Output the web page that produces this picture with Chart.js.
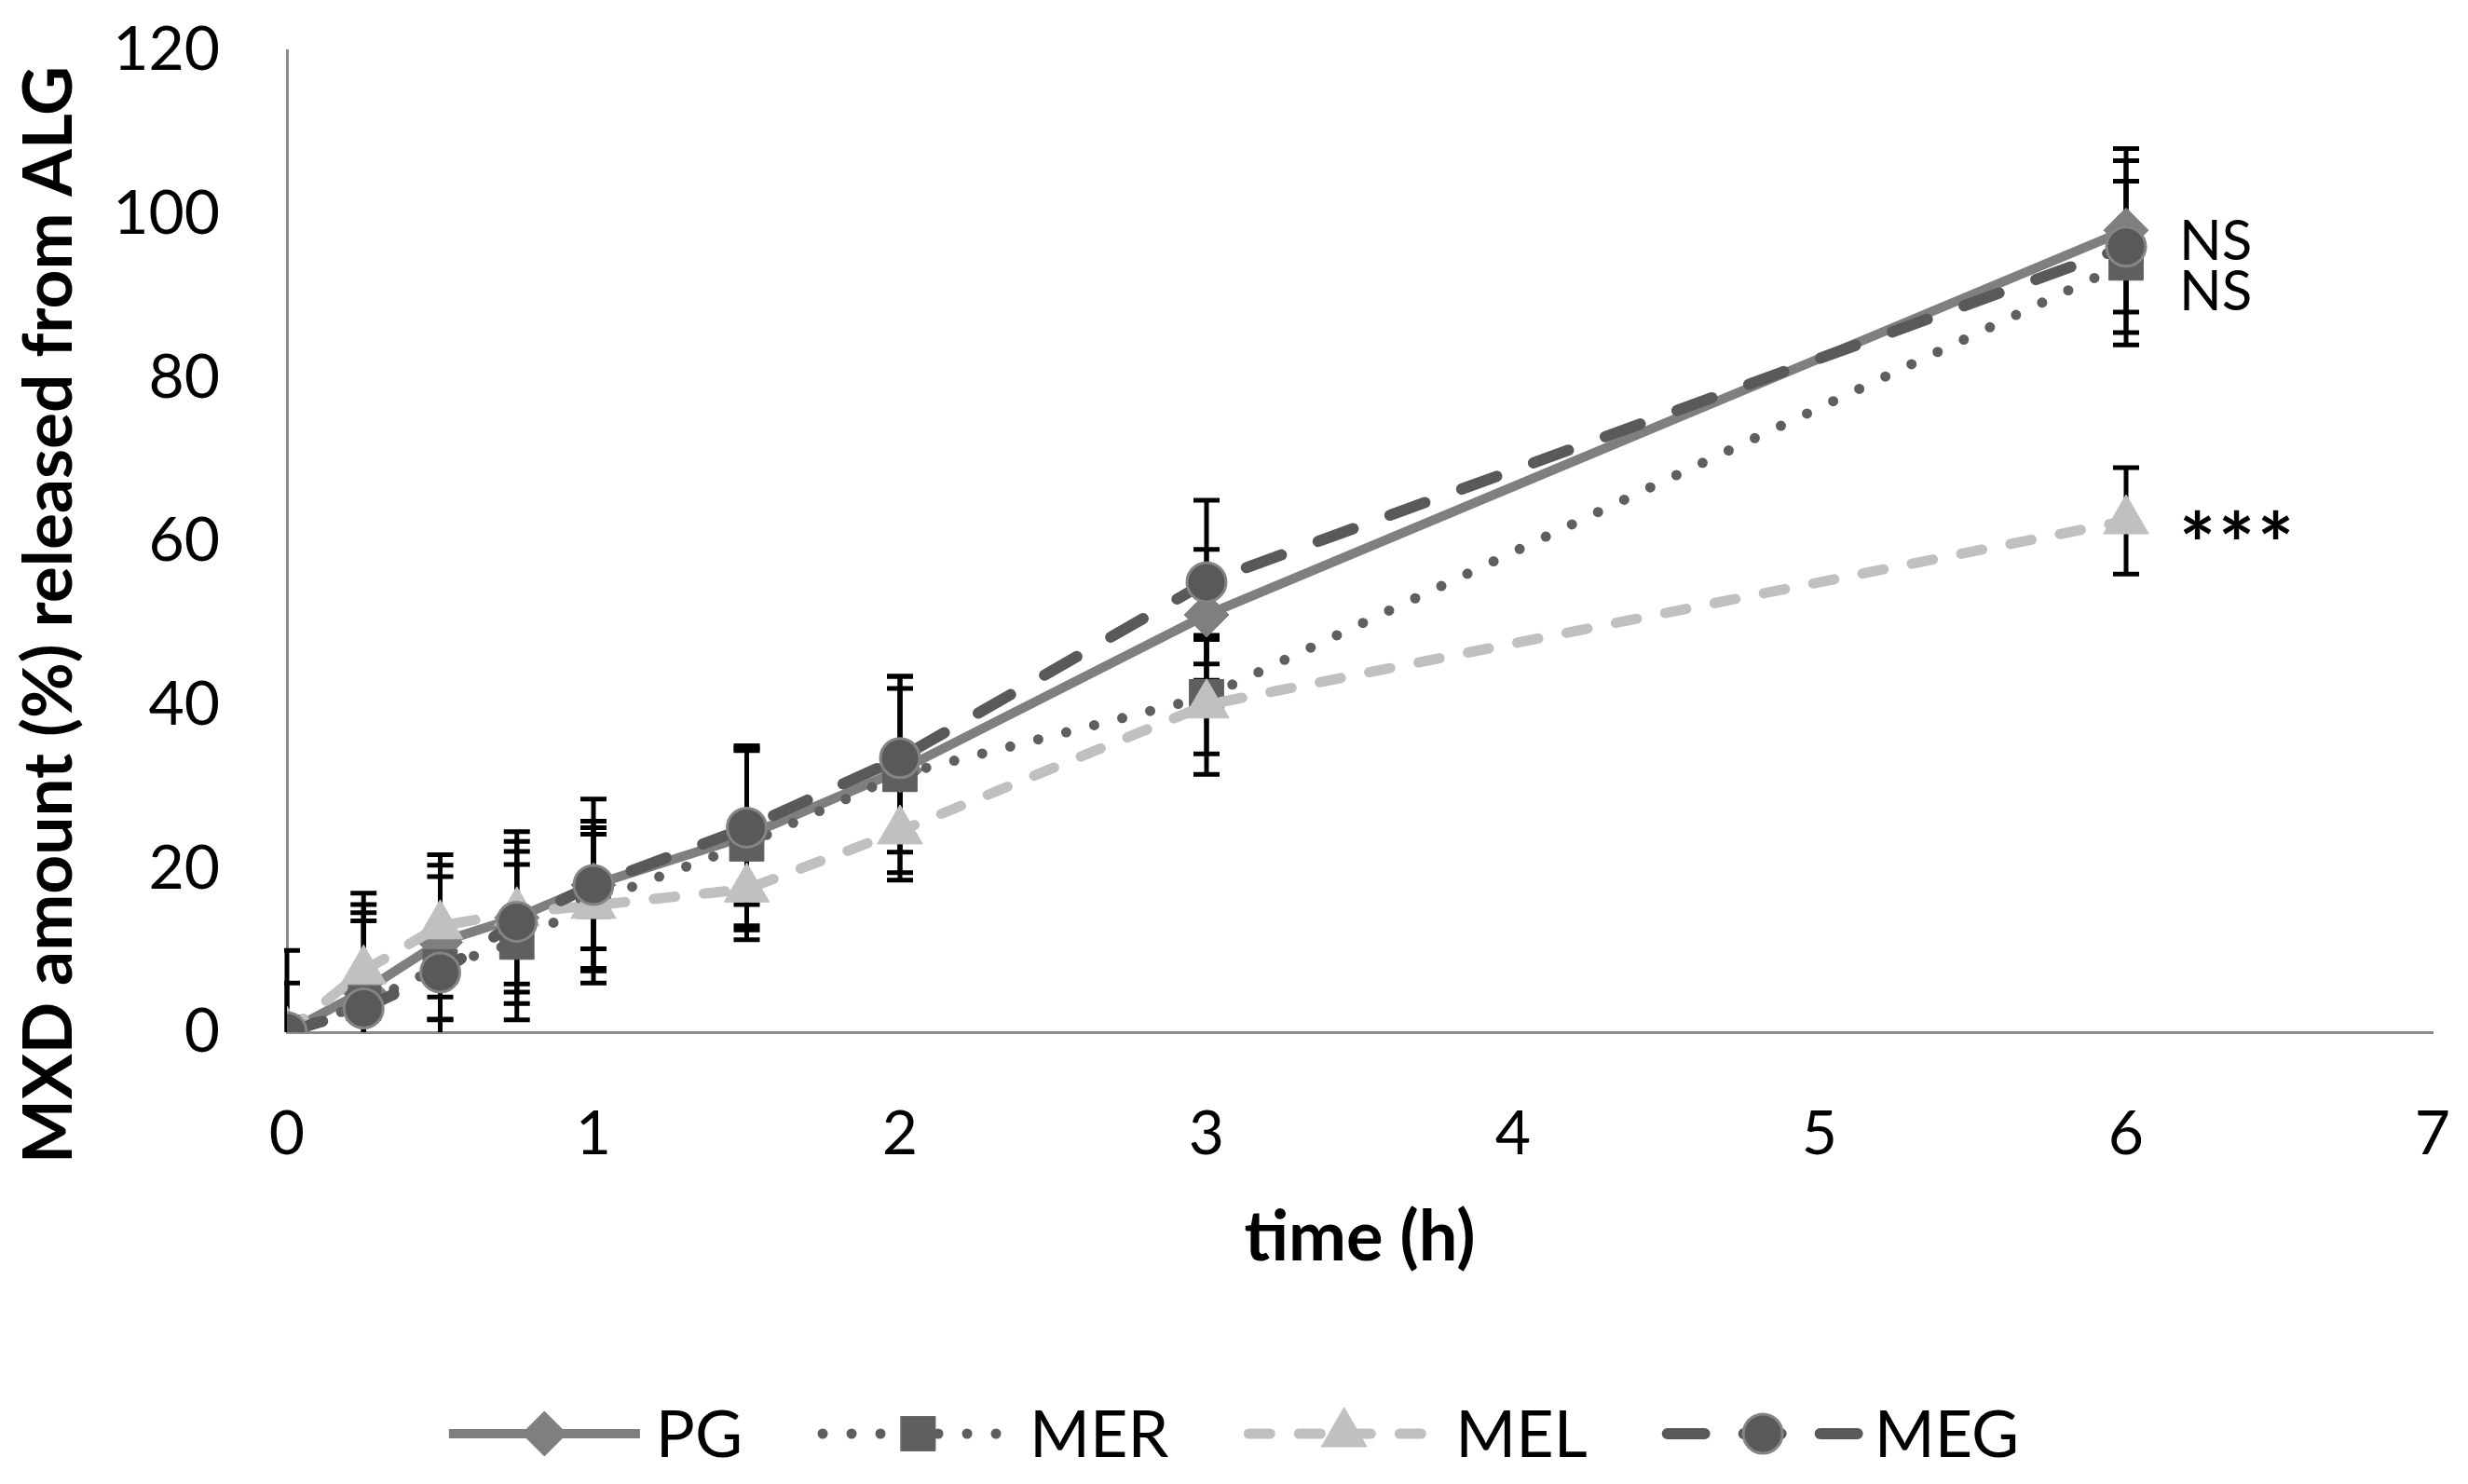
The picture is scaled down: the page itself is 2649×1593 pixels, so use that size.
<!DOCTYPE html>
<html>
<head>
<meta charset="utf-8">
<script src="https://cdn.jsdelivr.net/npm/chart.js@4.4.0/dist/chart.umd.min.js"></script>
<style>
  html, body { margin: 0; padding: 0; background: #fff; }
  #wrap { width: 2649px; height: 1593px; }
</style>
</head>
<body>
<div id="wrap"><canvas id="myChart" width="2649" height="1593"></canvas></div>
<script>
// time points (h)
var times = [0, 0.25, 0.5, 0.75, 1, 1.5, 2, 3, 6];

// % released, with SD for the error bars
var pgValues  = [0, 5, 11, 14, 18, 24, 32, 51, 98];
var pgSd      = [6, 9.6, 9.4, 10.5, 10.5, 11, 10, 8, 10];
var merValues = [0, 3.5, 8, 11, 16, 23, 31.5, 41, 94];
var merSd     = [10, 10.1, 11, 9.5, 8.2, 11.7, 12, 7, 10];
var melValues = [0, 7.5, 13, 14.6, 15.5, 17.5, 24.6, 40, 62.5];
var melSd     = [0, 8.1, 8.7, 8.7, 9.5, 5, 6, 8.5, 6.5];
var megValues = [0, 2.9, 7.3, 13.5, 18, 25, 33.5, 55, 96];
var megSd     = [0, 14.1, 5.8, 8.6, 7.8, 9.4, 10, 10, 10.5];

var seriesNames = ['PG', 'MER', 'MEL', 'MEG'];

// significance marks next to the 6 h points
var markLabels = ['NS', 'NS', '***'];
var markValues = [96.8, 90.7, 62];

var FONT = 'Lato, "Open Sans", sans-serif';

function toPoints(vals) {
     return times.map(function (t, i) { return { x: t, y: vals[i] }; });
}

var sdSets = [
     { values: pgValues, sd: pgSd },
     { values: merValues, sd: merSd },
     { values: melValues, sd: melSd },
     { values: megValues, sd: megSd }
];

var errorBars = {
     id: 'errorBars',
     beforeDatasetsDraw: function (chart) {
          var ctx = chart.ctx, xs = chart.scales.x, ys = chart.scales.y, a = chart.chartArea;
          ctx.save();
          ctx.beginPath();
          ctx.rect(a.left - 3, a.top - 60, a.right - a.left + 3, a.bottom - a.top + 60);
          ctx.clip();
          ctx.strokeStyle = '#000';
          ctx.lineWidth = 5;
          sdSets.forEach(function (s) {
               s.values.forEach(function (v, i) {
                    if (!s.sd[i]) return;
                    var px = xs.getPixelForValue(times[i]);
                    var top = ys.getPixelForValue(v + s.sd[i]);
                    var bot = ys.getPixelForValue(v - s.sd[i]);
                    ctx.beginPath();
                    ctx.moveTo(px, top); ctx.lineTo(px, bot);
                    ctx.moveTo(px - 14, top); ctx.lineTo(px + 14, top);
                    ctx.moveTo(px - 14, bot); ctx.lineTo(px + 14, bot);
                    ctx.stroke();
               });
          });
          ctx.restore();
     }
};

// text centred vertically on its real glyph box
function fillCentered(ctx, txt, x, y) {
     var m = ctx.measureText(txt);
     ctx.textBaseline = 'alphabetic';
     ctx.fillText(txt, x, y + (m.actualBoundingBoxAscent - m.actualBoundingBoxDescent) / 2);
}

var extras = {
     id: 'extras',
     afterDraw: function (chart) {
          var ctx = chart.ctx, xs = chart.scales.x, ys = chart.scales.y;
          ctx.save();
          ctx.fillStyle = '#000';

          // y axis title
          ctx.save();
          ctx.translate(54, 660);
          ctx.rotate(-Math.PI / 2);
          ctx.font = 'bold 73px ' + FONT;
          ctx.textAlign = 'center';
          fillCentered(ctx, 'MXD amount (%) released from ALG', 0, 0);
          ctx.restore();

          // x axis title
          ctx.font = 'bold 74px ' + FONT;
          ctx.textAlign = 'center';
          fillCentered(ctx, 'time (h)', (chart.chartArea.left + chart.chartArea.right) / 2, 1329);

          // NS / *** marks
          var mx = xs.getPixelForValue(times[times.length - 1]) + 57;
          ctx.textAlign = 'left';
          markLabels.forEach(function (t, i) {
               var my = ys.getPixelForValue(markValues[i]);
               if (t === '***') {
                    ctx.font = 'bold 92px ' + FONT;
                    for (var k = 0; k < 3; k++) fillCentered(ctx, '*', mx + k * 42, my);
               } else {
                    ctx.font = '60px ' + FONT;
                    fillCentered(ctx, t, mx, my);
               }
          });

          // legend: line sample + marker + name
          var ly = 1539, lineLen = 205, gapText = 17, gapItem = 86;
          ctx.font = '70px ' + FONT;
          var widths = chart.data.datasets.map(function (d) { return ctx.measureText(d.label).width; });
          var total = 0;
          widths.forEach(function (w, i) { total += lineLen + gapText + w + (i ? gapItem : 0); });
          var lx = chart.width / 2 - total / 2;
          chart.data.datasets.forEach(function (d, i) {
               ctx.save();
               ctx.strokeStyle = d.borderColor;
               ctx.lineWidth = d.borderWidth;
               ctx.lineCap = d.borderCapStyle || 'butt';
               ctx.setLineDash(d.borderDash || []);
               ctx.beginPath();
               ctx.moveTo(lx, ly); ctx.lineTo(lx + lineLen, ly);
               ctx.stroke();
               ctx.setLineDash([]);
               ctx.fillStyle = d.pointBackgroundColor;
               ctx.strokeStyle = d.pointBorderColor;
               ctx.lineWidth = d.pointBorderWidth;
               Chart.helpers.drawPoint(ctx, {
                    pointStyle: d.pointStyle, radius: d.pointRadius, rotation: 0,
                    borderWidth: d.pointBorderWidth
               }, lx + lineLen / 2, ly);
               ctx.restore();
               ctx.fillStyle = '#000';
               ctx.textAlign = 'left';
               fillCentered(ctx, d.label, lx + lineLen + gapText, ly);
               lx += lineLen + gapText + widths[i] + gapItem;
          });
          ctx.restore();
     }
};

new Chart('myChart', {
     type: 'line',
     data: {
          datasets: [{
               label: seriesNames[0],
               data: toPoints(pgValues),
               borderColor: '#7f7f7f',
               borderWidth: 10,
               pointStyle: 'rectRot',
               pointRadius: 24,
               pointBackgroundColor: '#7f7f7f',
               pointBorderColor: '#7f7f7f',
               pointBorderWidth: 1,
               order: 4
          }, {
               label: seriesNames[1],
               data: toPoints(merValues),
               borderColor: '#5f5f5f',
               borderWidth: 11,
               borderDash: [0, 31],
               borderCapStyle: 'round',
               pointStyle: 'rect',
               pointRadius: 26,
               pointBackgroundColor: '#5f5f5f',
               pointBorderColor: '#5f5f5f',
               pointBorderWidth: 1,
               order: 3
          }, {
               label: seriesNames[2],
               data: toPoints(melValues),
               borderColor: '#c0c0c0',
               borderWidth: 11,
               borderDash: [23, 31],
               borderCapStyle: 'round',
               pointStyle: 'triangle',
               pointRadius: 28,
               pointBackgroundColor: '#c0c0c0',
               pointBorderColor: '#c0c0c0',
               pointBorderWidth: 1,
               order: 2
          }, {
               label: seriesNames[3],
               data: toPoints(megValues),
               borderColor: '#595959',
               borderWidth: 12,
               borderDash: [40, 42],
               borderCapStyle: 'round',
               pointStyle: 'circle',
               pointRadius: 21,
               pointBackgroundColor: '#595959',
               pointBorderColor: '#858585',
               pointBorderWidth: 3,
               order: 1
          }]
     },
     options: {
          responsive: false,
          animation: false,
          devicePixelRatio: 1,
          layout: { padding: { left: 0, right: 38, top: 54, bottom: 0 } },
          elements: { line: { tension: 0 } },
          plugins: {
               legend: { display: false },
               tooltip: { enabled: false }
          },
          scales: {
               x: {
                    type: 'linear',
                    min: 0, max: 7,
                    grid: { display: true, drawOnChartArea: false, color: 'rgba(0,0,0,0)', drawTicks: true, tickLength: 70 },
                    border: { display: true, color: '#8c8c8c', width: 3 },
                    ticks: { stepSize: 1, padding: 0, color: '#000', font: { family: FONT, size: 66 } },
                    afterFit: function (s) { s.height = 485; }
               },
               y: {
                    min: 0, max: 120,
                    grid: { display: true, drawOnChartArea: false, color: 'rgba(0,0,0,0)', drawTicks: true, tickLength: 72 },
                    border: { display: true, color: '#8c8c8c', width: 3 },
                    ticks: { stepSize: 20, padding: 0, color: '#000', font: { family: FONT, size: 66 } },
                    afterFit: function (s) { s.width = 308; }
               }
          }
     },
     plugins: [errorBars, extras]
});
</script>
</body>
</html>
